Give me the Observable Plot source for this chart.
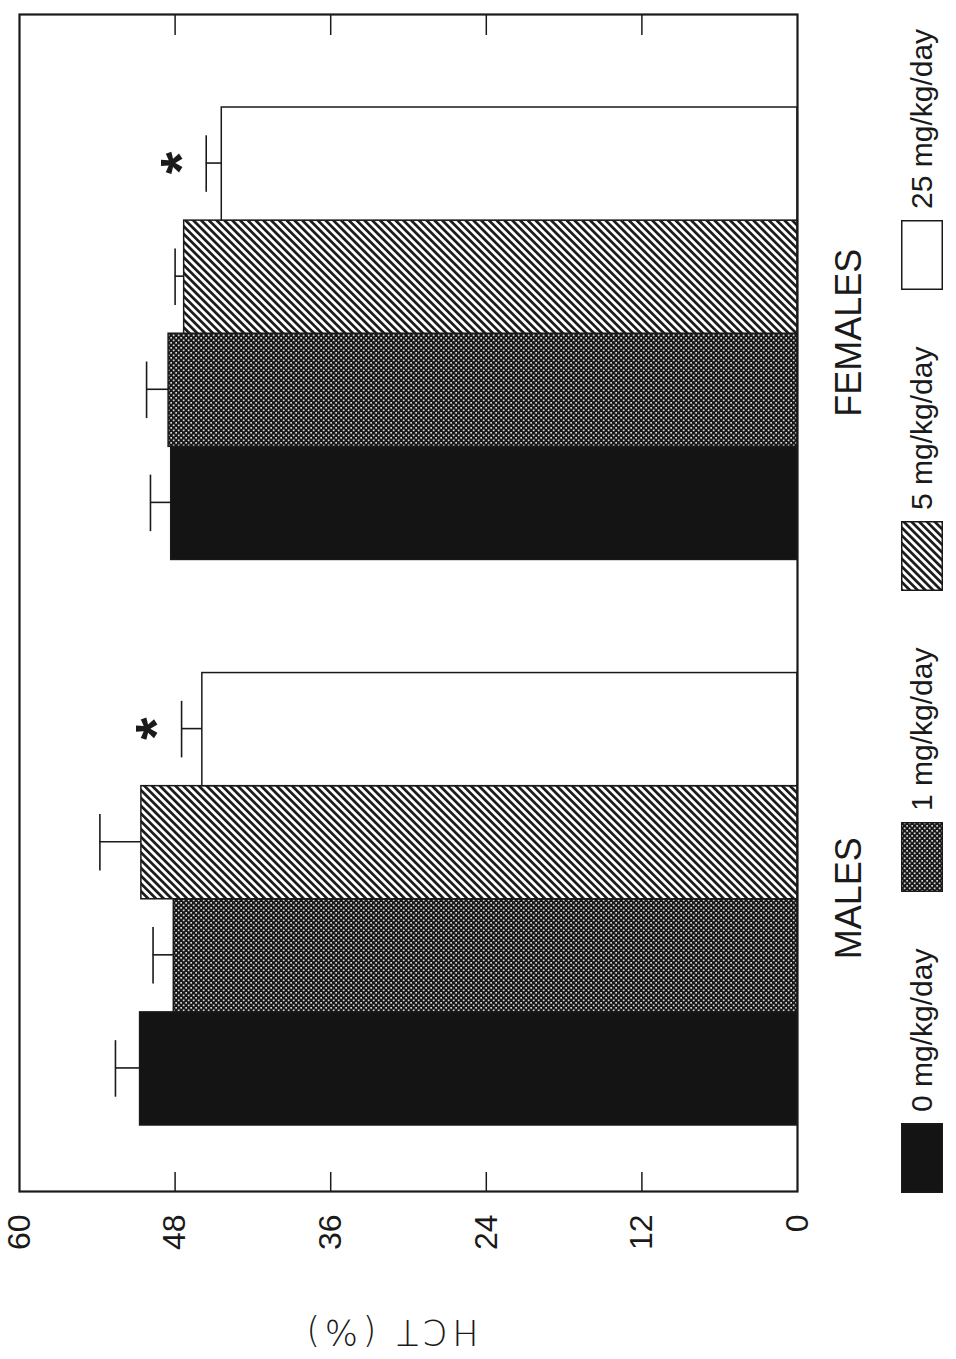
<!DOCTYPE html>
<html><head><meta charset="utf-8">
<script src="https://cdn.jsdelivr.net/npm/d3@7"></script>
<script src="https://cdn.jsdelivr.net/npm/@observablehq/plot@0.6"></script>
<style>
html,body{margin:0;padding:0;background:#fff;overflow:hidden;width:956px;height:1359px;}
#page{position:absolute;left:0;top:0;width:1359px;height:956px;transform-origin:0 0;transform:translate(0px,1359px) rotate(-90deg);background:#fff;font-family:"Liberation Sans",Arial,sans-serif;color:#1a1a1a;}
#legend{position:relative;height:66px;}
.item{position:absolute;top:10px;display:flex;align-items:center;height:44px;}
.item svg{display:block;}
.lab{margin-left:11px;font-size:30px;line-height:1;}
</style></head><body>
<svg width="0" height="0" style="position:absolute">
  <defs>
    <pattern id="pDots" width="5" height="5" patternUnits="userSpaceOnUse">
      <rect width="5" height="5" fill="#181818"/>
      <rect x="0.3" y="0.3" width="1.7" height="1.7" fill="#d8d8d8"/>
      <rect x="2.8" y="2.8" width="1.7" height="1.7" fill="#d8d8d8"/>
    </pattern>
    <pattern id="pHatch" width="5.5" height="5.5" patternUnits="userSpaceOnUse" patternTransform="rotate(45)">
      <rect width="5.5" height="5.5" fill="#ffffff"/>
      <rect width="2.7" height="5.5" fill="#1a1a1a"/>
    </pattern>
  </defs>
</svg>
<div id="page"><div id="chart"></div><div id="legend"></div></div>
<script>
// ---- data ----
const groups = ["MALES", "FEMALES"];
const doses = ["0 mg/kg/day", "1 mg/kg/day", "5 mg/kg/day", "25 mg/kg/day"];
const malesHCT = [50.7, 48.1, 50.6, 45.9];
const malesSEM = [1.9, 1.6, 3.2, 1.6];
const malesStar = [false, false, false, true];
const femalesHCT = [48.3, 48.5, 47.3, 44.4];
const femalesSEM = [1.6, 1.7, 0.7, 1.2];
const femalesStar = [false, false, false, true];
const yTicks = [0, 12, 24, 36, 48, 60];
const yLabel = "HCT (%)";
const starText = "*";

// ---- styles ----
const fills = ["#141414", "url(#pDots)", "url(#pHatch)", "#ffffff"];
const ink = "#1a1a1a";
const W = 1359, H = 890, ML = 167, MR = 15, MT = 19, MB = H - 797;
const FRAME_W = W - ML - MR;
const slotPx = 113.1;

const hctBy = [malesHCT, femalesHCT], semBy = [malesSEM, femalesSEM], starBy = [malesStar, femalesStar];
const rows = [];
groups.forEach((g, gi) => doses.forEach((d, di) => rows.push({
  group: g, dose: d, slot: gi * (doses.length + 1) + di,
  hct: hctBy[gi][di], sem: semBy[gi][di], star: starBy[gi][di]
})));
const nSlots = groups.length * (doses.length + 1) - 1;
const xDomain = [-67 / slotPx, nSlots + 92 / slotPx];

const chart = Plot.plot({
  width: W, height: H,
  marginLeft: ML, marginRight: MR, marginTop: MT, marginBottom: MB,
  style: {fontFamily: "'Liberation Sans', Arial, sans-serif", color: ink, background: "#fff", overflow: "visible"},
  x: {type: "linear", domain: xDomain, axis: null},
  y: {domain: [0, 60], axis: null},
  color: {type: "ordinal", domain: doses, range: fills},
  marks: [
    Plot.rectY(rows, {x1: "slot", x2: d => d.slot + 1, y1: 0, y2: "hct", fill: "dose", stroke: ink, strokeWidth: 1.5}),
    Plot.ruleX(rows, {x: d => d.slot + 0.5, y1: "hct", y2: d => d.hct + d.sem, stroke: ink, strokeWidth: 1.6}),
    Plot.ruleY(rows, {y: d => d.hct + d.sem, x1: d => d.slot + 0.25, x2: d => d.slot + 0.75, stroke: ink, strokeWidth: 1.6}),
    Plot.text(rows.filter(d => d.star), {x: d => d.slot + 0.5, y: d => d.hct + d.sem + 3, text: () => starText, fontSize: 58, fontWeight: "bold", dy: 15, fill: ink}),
    Plot.tickY(yTicks.slice(1, -1), {y: d => d, insetRight: FRAME_W - 20, stroke: ink, strokeWidth: 1.5}),
    Plot.tickY(yTicks.slice(1, -1), {y: d => d, insetLeft: FRAME_W - 20, stroke: ink, strokeWidth: 1.5}),
    Plot.frame({stroke: ink, strokeWidth: 2.2}),
    Plot.axisY(yTicks, {anchor: "left", tickSize: 0, tickPadding: 23, fontSize: 32, label: null}),
    Plot.text([yLabel], {frameAnchor: "left", rotate: -90, textAnchor: "start", dx: -140, dy: 70, fontSize: 35, fontFamily: "'DejaVu Sans', sans-serif", fontWeight: 300, fill: ink}),
    Plot.text(groups, {x: (d, i) => i * (doses.length + 1) + doses.length / 2, frameAnchor: "bottom", lineAnchor: "top", dy: 38, fontSize: 36, fill: ink})
  ]
});
d3.select(chart).selectAll("text").filter(function() { return this.textContent === yLabel; })
  .attr("textLength", 172).attr("lengthAdjust", "spacing");
document.getElementById("chart").appendChild(chart);

// ---- legend ----
const legend = d3.select("#legend");
doses.forEach((d, i) => {
  const item = legend.append("div").attr("class", "item").style("left", (166 + i * 301) + "px");
  const s = item.append("svg").attr("width", 70).attr("height", 42);
  s.append("rect").attr("x", 0.75).attr("y", 0.75).attr("width", 68.5).attr("height", 40.5)
    .attr("fill", fills[i]).attr("stroke", ink).attr("stroke-width", 1.5);
  item.append("span").attr("class", "lab").text(d);
});
</script>
</body></html>
